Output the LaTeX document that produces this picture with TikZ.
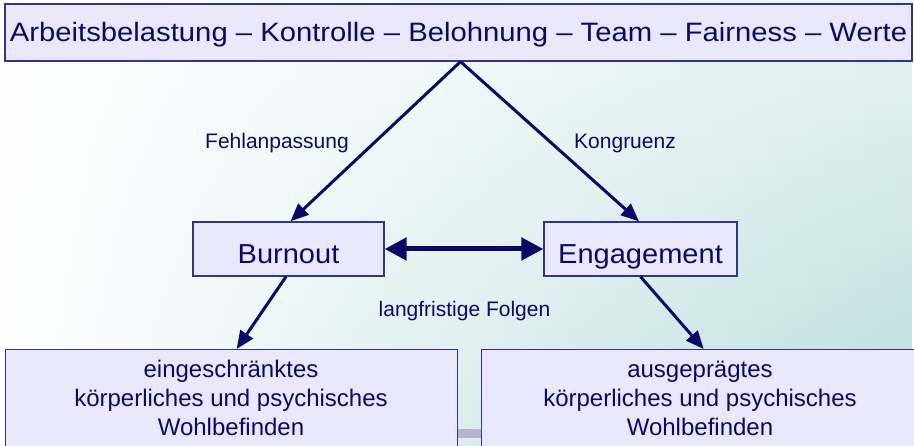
\documentclass[tikz,border=0pt]{standalone}
\usepackage{fontspec}
\setmainfont{Liberation Sans}
\newfontfamily\widefont[FakeStretch=1.1]{Liberation Sans}
\newfontfamily\stretchfont[FakeStretch=1.06]{Liberation Sans}
\usetikzlibrary{arrows.meta,fadings}

\definecolor{ink}{HTML}{0A0A66}
\definecolor{boxfill}{HTML}{E8E8FA}
\definecolor{boxline}{HTML}{34348A}
\definecolor{tealtop}{HTML}{E8F4F4}
\definecolor{tealbot}{HTML}{B8DCDC}
\definecolor{bar}{HTML}{B4B4D2}

\tikzset{
  box/.style={draw=boxline, line width=1.3pt, fill=boxfill, inner sep=0pt, text=ink},
  headfont/.style={font=\widefont\fontsize{26.6}{30}\selectfont,
                   text height=22pt, text depth=3pt},
  statefont/.style={font=\stretchfont\fontsize{27.4}{32}\selectfont,
                    text height=30pt, text depth=1pt},
  lbl/.style={text=ink, font=\fontsize{21}{25}\selectfont, inner sep=0pt},
  body/.style={text=ink, font=\fontsize{24}{29}\selectfont, align=center, inner sep=0pt},
  link/.style={draw=ink, line width=3pt, -{Triangle[length=18pt,width=15pt]}},
  mutual/.style={draw=ink, line width=5pt,
                 {Triangle[length=22pt,width=22pt]}-{Triangle[length=22pt,width=22pt]}}
}

\begin{document}
\begin{tikzpicture}[x=1pt,y=-1pt]
  \useasboundingbox (0,0) rectangle (914,446);

  % background: white on the left, turning teal towards the lower right
  \fill[white] (0,0) rectangle (914,446);
  \shade[top color=tealtop, bottom color=tealbot, path fading=west]
    (0,0) rectangle (914,446);

  % small bar between the two result boxes
  \fill[bar] (457,429) rectangle (481,438);

  % factor box
  \node[box, headfont, minimum width=907pt, minimum height=57pt] (top) at (458.5,32.5)
    {Arbeitsbelastung – Kontrolle – Belohnung – Team – Fairness – Werte};

  % the two states
  \node[box, statefont, minimum width=191pt, minimum height=54pt] (bu) at (288.5,249) {Burnout};
  \node[box, statefont, minimum width=193pt, minimum height=54pt] (en) at (640.5,249) {Engagement};

  % long-term result boxes
  \node[box, anchor=north west, minimum width=452pt, minimum height=130pt] (bl) at (5,349) {};
  \node[box, anchor=north west, minimum width=460pt, minimum height=130pt] (br) at (481,349) {};
  \node[body, anchor=north] (bltext) at (231,357)
    {\strut eingeschränktes\\körperliches und psychisches\\Wohlbefinden};
  \node[body, anchor=north] (brtext) at (700,357)
    {\strut ausgeprägtes\\körperliches und psychisches\\Wohlbefinden};

  % labels
  \node[lbl] (fit0) at (277,143) {Fehlanpassung};
  \node[lbl] (fit1) at (625,143) {Kongruenz};
  \node[lbl] (long) at (464.5,311) {langfristige Folgen};

  % connectors
  \coordinate (apex) at ([xshift=2pt]top.south);
  \draw[link] (apex) -- ([xshift=2pt]bu.north);
  \draw[link] (apex) -- ([xshift=-1.5pt]en.north);
  \draw[link] ([xshift=-2.5pt]bu.south) -- ([xshift=5pt]bl.north);
  \draw[link] (en.south) -- ([xshift=-8pt]br.north);
  \draw[mutual] (bu.east) -- (en.west);
\end{tikzpicture}
\end{document}
